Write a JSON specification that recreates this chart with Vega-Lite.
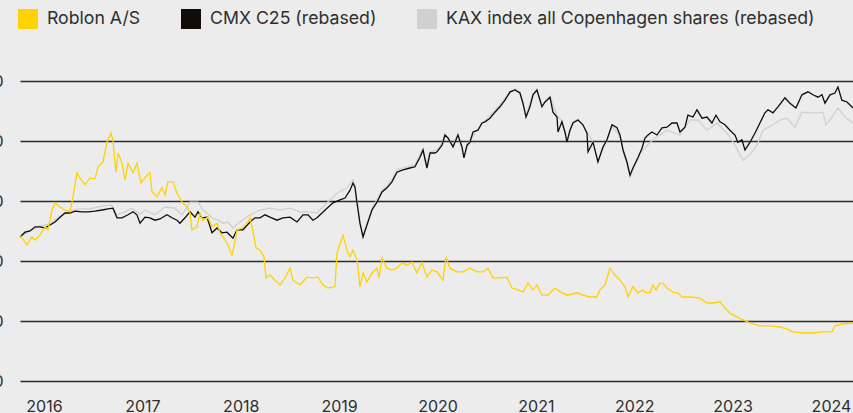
{
  "$schema": "https://vega.github.io/schema/vega-lite/v6.json",
  "autosize": "none",
  "width": 833,
  "height": 300,
  "padding": {"left": 20, "top": 81, "right": 0, "bottom": 32},
  "background": "#ececec",
  "config": {
    "view": {"stroke": null},
    "font": "Inter"
  },
  "datasets": {
    "roblon": [
      {"t":2015.756,"v":243},{"t":2015.827,"v":227},{"t":2015.878,"v":240},{"t":2015.909,"v":235},{"t":2015.959,"v":243},
      {"t":2016.010,"v":257},{"t":2016.041,"v":252},{"t":2016.081,"v":285},{"t":2016.112,"v":297},{"t":2016.163,"v":290},
      {"t":2016.213,"v":285},{"t":2016.264,"v":282},{"t":2016.295,"v":307},{"t":2016.335,"v":347},{"t":2016.366,"v":338},
      {"t":2016.417,"v":327},{"t":2016.468,"v":338},{"t":2016.518,"v":337},{"t":2016.549,"v":357},{"t":2016.600,"v":365},
      {"t":2016.640,"v":398},{"t":2016.681,"v":413},{"t":2016.701,"v":402},{"t":2016.732,"v":348},{"t":2016.752,"v":380},
      {"t":2016.793,"v":363},{"t":2016.823,"v":335},{"t":2016.854,"v":363},{"t":2016.905,"v":347},{"t":2016.945,"v":363},
      {"t":2016.986,"v":330},{"t":2017.047,"v":343},{"t":2017.077,"v":347},{"t":2017.098,"v":315},{"t":2017.149,"v":307},
      {"t":2017.199,"v":322},{"t":2017.230,"v":310},{"t":2017.260,"v":332},{"t":2017.311,"v":332},{"t":2017.352,"v":313},
      {"t":2017.403,"v":298},{"t":2017.454,"v":290},{"t":2017.484,"v":280},{"t":2017.504,"v":252},{"t":2017.555,"v":257},
      {"t":2017.586,"v":280},{"t":2017.616,"v":268},{"t":2017.667,"v":273},{"t":2017.708,"v":257},{"t":2017.759,"v":263},
      {"t":2017.789,"v":247},{"t":2017.860,"v":230},{"t":2017.911,"v":210},{"t":2017.931,"v":223},{"t":2017.962,"v":252},
      {"t":2018.013,"v":255},{"t":2018.064,"v":263},{"t":2018.094,"v":272},{"t":2018.125,"v":248},{"t":2018.155,"v":222},
      {"t":2018.196,"v":218},{"t":2018.236,"v":207},{"t":2018.257,"v":172},{"t":2018.297,"v":177},{"t":2018.348,"v":168},
      {"t":2018.399,"v":160},{"t":2018.450,"v":172},{"t":2018.501,"v":188},{"t":2018.531,"v":168},{"t":2018.602,"v":160},
      {"t":2018.673,"v":173},{"t":2018.724,"v":172},{"t":2018.785,"v":173},{"t":2018.836,"v":160},{"t":2018.887,"v":155},
      {"t":2018.958,"v":157},{"t":2018.978,"v":213},{"t":2019.039,"v":243},{"t":2019.080,"v":218},{"t":2019.111,"v":207},
      {"t":2019.141,"v":218},{"t":2019.182,"v":202},{"t":2019.212,"v":157},{"t":2019.243,"v":180},{"t":2019.283,"v":165},
      {"t":2019.334,"v":180},{"t":2019.385,"v":188},{"t":2019.405,"v":172},{"t":2019.436,"v":205},{"t":2019.487,"v":188},
      {"t":2019.537,"v":185},{"t":2019.588,"v":188},{"t":2019.639,"v":197},{"t":2019.690,"v":193},{"t":2019.741,"v":198},
      {"t":2019.791,"v":180},{"t":2019.842,"v":197},{"t":2019.893,"v":173},{"t":2019.944,"v":185},{"t":2019.995,"v":182},
      {"t":2020.056,"v":168},{"t":2020.086,"v":207},{"t":2020.127,"v":188},{"t":2020.198,"v":182},{"t":2020.259,"v":182},
      {"t":2020.330,"v":188},{"t":2020.401,"v":182},{"t":2020.462,"v":182},{"t":2020.513,"v":188},{"t":2020.564,"v":172},
      {"t":2020.635,"v":172},{"t":2020.706,"v":173},{"t":2020.757,"v":155},{"t":2020.818,"v":152},{"t":2020.869,"v":148},
      {"t":2020.920,"v":163},{"t":2020.971,"v":152},{"t":2021.011,"v":160},{"t":2021.062,"v":143},{"t":2021.123,"v":143},
      {"t":2021.194,"v":155},{"t":2021.265,"v":147},{"t":2021.326,"v":143},{"t":2021.418,"v":147},{"t":2021.479,"v":143},
      {"t":2021.550,"v":140},{"t":2021.621,"v":140},{"t":2021.652,"v":152},{"t":2021.703,"v":160},{"t":2021.753,"v":188},
      {"t":2021.804,"v":177},{"t":2021.855,"v":168},{"t":2021.906,"v":157},{"t":2021.936,"v":140},{"t":2021.987,"v":157},
      {"t":2022.038,"v":147},{"t":2022.089,"v":152},{"t":2022.109,"v":148},{"t":2022.160,"v":147},{"t":2022.190,"v":160},
      {"t":2022.221,"v":152},{"t":2022.262,"v":163},{"t":2022.292,"v":163},{"t":2022.333,"v":155},{"t":2022.394,"v":148},
      {"t":2022.445,"v":147},{"t":2022.485,"v":140},{"t":2022.567,"v":140},{"t":2022.668,"v":138},{"t":2022.739,"v":130},
      {"t":2022.800,"v":130},{"t":2022.872,"v":132},{"t":2022.922,"v":122},{"t":2022.973,"v":113},{"t":2023.044,"v":107},
      {"t":2023.105,"v":102},{"t":2023.177,"v":97},{"t":2023.278,"v":92},{"t":2023.380,"v":92},{"t":2023.482,"v":90},
      {"t":2023.553,"v":87},{"t":2023.614,"v":82},{"t":2023.715,"v":80},{"t":2023.817,"v":80},{"t":2023.919,"v":82},
      {"t":2024.010,"v":82},{"t":2024.040,"v":92},{"t":2024.122,"v":95},{"t":2024.224,"v":97}
    ],
    "cmx": [
      {"t":2015.756,"v":240},{"t":2015.807,"v":248},{"t":2015.858,"v":250},{"t":2015.909,"v":257},{"t":2015.959,"v":257},
      {"t":2016.010,"v":255},{"t":2016.061,"v":260},{"t":2016.112,"v":265},{"t":2016.163,"v":273},{"t":2016.213,"v":280},
      {"t":2016.264,"v":280},{"t":2016.315,"v":283},{"t":2016.386,"v":282},{"t":2016.447,"v":282},{"t":2016.518,"v":283},
      {"t":2016.590,"v":285},{"t":2016.651,"v":287},{"t":2016.701,"v":288},{"t":2016.742,"v":272},{"t":2016.793,"v":272},
      {"t":2016.854,"v":277},{"t":2016.905,"v":282},{"t":2016.945,"v":277},{"t":2016.976,"v":263},{"t":2017.027,"v":273},
      {"t":2017.077,"v":272},{"t":2017.128,"v":268},{"t":2017.179,"v":270},{"t":2017.250,"v":277},{"t":2017.301,"v":272},
      {"t":2017.352,"v":268},{"t":2017.382,"v":263},{"t":2017.433,"v":272},{"t":2017.484,"v":282},{"t":2017.535,"v":273},
      {"t":2017.565,"v":282},{"t":2017.606,"v":272},{"t":2017.657,"v":273},{"t":2017.708,"v":247},{"t":2017.759,"v":255},
      {"t":2017.809,"v":247},{"t":2017.860,"v":248},{"t":2017.921,"v":238},{"t":2017.962,"v":252},{"t":2018.023,"v":252},
      {"t":2018.094,"v":265},{"t":2018.145,"v":272},{"t":2018.196,"v":272},{"t":2018.246,"v":277},{"t":2018.297,"v":273},
      {"t":2018.368,"v":268},{"t":2018.429,"v":272},{"t":2018.501,"v":273},{"t":2018.572,"v":265},{"t":2018.633,"v":277},
      {"t":2018.684,"v":277},{"t":2018.734,"v":268},{"t":2018.775,"v":272},{"t":2018.826,"v":280},{"t":2018.877,"v":288},
      {"t":2018.938,"v":297},{"t":2019.009,"v":302},{"t":2019.060,"v":305},{"t":2019.111,"v":318},{"t":2019.141,"v":330},
      {"t":2019.161,"v":323},{"t":2019.182,"v":297},{"t":2019.212,"v":263},{"t":2019.243,"v":240},{"t":2019.283,"v":260},
      {"t":2019.334,"v":285},{"t":2019.385,"v":298},{"t":2019.436,"v":315},{"t":2019.487,"v":322},{"t":2019.537,"v":332},
      {"t":2019.588,"v":348},{"t":2019.649,"v":352},{"t":2019.720,"v":355},{"t":2019.771,"v":357},{"t":2019.822,"v":373},
      {"t":2019.853,"v":385},{"t":2019.893,"v":355},{"t":2019.924,"v":380},{"t":2019.974,"v":380},{"t":2019.995,"v":382},
      {"t":2020.046,"v":393},{"t":2020.076,"v":410},{"t":2020.107,"v":405},{"t":2020.158,"v":390},{"t":2020.208,"v":410},
      {"t":2020.249,"v":390},{"t":2020.269,"v":372},{"t":2020.300,"v":393},{"t":2020.330,"v":398},{"t":2020.361,"v":415},
      {"t":2020.412,"v":418},{"t":2020.452,"v":430},{"t":2020.483,"v":432},{"t":2020.534,"v":438},{"t":2020.584,"v":448},
      {"t":2020.635,"v":457},{"t":2020.686,"v":468},{"t":2020.737,"v":482},{"t":2020.788,"v":485},{"t":2020.838,"v":480},
      {"t":2020.869,"v":463},{"t":2020.900,"v":440},{"t":2020.940,"v":457},{"t":2020.971,"v":477},{"t":2021.011,"v":485},
      {"t":2021.062,"v":457},{"t":2021.093,"v":465},{"t":2021.144,"v":473},{"t":2021.174,"v":448},{"t":2021.215,"v":440},
      {"t":2021.225,"v":415},{"t":2021.265,"v":432},{"t":2021.296,"v":415},{"t":2021.316,"v":398},{"t":2021.347,"v":418},
      {"t":2021.377,"v":430},{"t":2021.428,"v":435},{"t":2021.479,"v":427},{"t":2021.520,"v":413},{"t":2021.530,"v":382},
      {"t":2021.581,"v":398},{"t":2021.631,"v":365},{"t":2021.682,"v":390},{"t":2021.723,"v":402},{"t":2021.774,"v":427},
      {"t":2021.825,"v":422},{"t":2021.855,"v":410},{"t":2021.886,"v":385},{"t":2021.926,"v":365},{"t":2021.957,"v":343},
      {"t":2021.987,"v":355},{"t":2022.038,"v":372},{"t":2022.079,"v":388},{"t":2022.109,"v":405},{"t":2022.140,"v":410},
      {"t":2022.180,"v":415},{"t":2022.231,"v":410},{"t":2022.282,"v":422},{"t":2022.333,"v":423},{"t":2022.384,"v":430},
      {"t":2022.435,"v":430},{"t":2022.465,"v":415},{"t":2022.516,"v":423},{"t":2022.546,"v":443},{"t":2022.597,"v":440},
      {"t":2022.638,"v":452},{"t":2022.689,"v":438},{"t":2022.739,"v":440},{"t":2022.790,"v":430},{"t":2022.831,"v":443},
      {"t":2022.872,"v":432},{"t":2022.922,"v":427},{"t":2022.973,"v":418},{"t":2023.024,"v":410},{"t":2023.054,"v":398},
      {"t":2023.095,"v":402},{"t":2023.126,"v":385},{"t":2023.177,"v":398},{"t":2023.227,"v":413},{"t":2023.278,"v":430},
      {"t":2023.329,"v":447},{"t":2023.360,"v":452},{"t":2023.410,"v":447},{"t":2023.461,"v":457},{"t":2023.532,"v":472},
      {"t":2023.583,"v":463},{"t":2023.644,"v":455},{"t":2023.705,"v":477},{"t":2023.766,"v":482},{"t":2023.817,"v":477},
      {"t":2023.868,"v":473},{"t":2023.909,"v":477},{"t":2023.939,"v":463},{"t":2023.990,"v":477},{"t":2024.040,"v":480},
      {"t":2024.071,"v":490},{"t":2024.111,"v":468},{"t":2024.163,"v":465},{"t":2024.224,"v":455}
    ],
    "kax": [
      {"t":2015.756,"v":240},{"t":2015.858,"v":250},{"t":2015.959,"v":258},{"t":2016.061,"v":262},{"t":2016.163,"v":275},
      {"t":2016.264,"v":283},{"t":2016.366,"v":287},{"t":2016.468,"v":287},{"t":2016.600,"v":292},{"t":2016.691,"v":293},
      {"t":2016.742,"v":277},{"t":2016.823,"v":282},{"t":2016.895,"v":288},{"t":2016.976,"v":278},{"t":2017.027,"v":285},
      {"t":2017.128,"v":277},{"t":2017.230,"v":290},{"t":2017.332,"v":288},{"t":2017.403,"v":277},{"t":2017.484,"v":298},
      {"t":2017.565,"v":298},{"t":2017.616,"v":285},{"t":2017.708,"v":272},{"t":2017.769,"v":268},{"t":2017.820,"v":263},
      {"t":2017.870,"v":265},{"t":2017.921,"v":255},{"t":2017.992,"v":265},{"t":2018.094,"v":277},{"t":2018.196,"v":285},
      {"t":2018.297,"v":288},{"t":2018.399,"v":285},{"t":2018.501,"v":288},{"t":2018.602,"v":282},{"t":2018.704,"v":282},
      {"t":2018.775,"v":280},{"t":2018.877,"v":297},{"t":2018.978,"v":313},{"t":2019.080,"v":322},{"t":2019.141,"v":335},
      {"t":2019.161,"v":327},{"t":2019.182,"v":297},{"t":2019.212,"v":263},{"t":2019.243,"v":242},{"t":2019.283,"v":262},
      {"t":2019.334,"v":288},{"t":2019.385,"v":302},{"t":2019.436,"v":318},{"t":2019.487,"v":325},{"t":2019.537,"v":335},
      {"t":2019.588,"v":352},{"t":2019.649,"v":355},{"t":2019.720,"v":358},{"t":2019.771,"v":360},{"t":2019.822,"v":377},
      {"t":2019.853,"v":387},{"t":2019.893,"v":358},{"t":2019.924,"v":382},{"t":2019.995,"v":385},{"t":2020.046,"v":396},
      {"t":2020.076,"v":412},{"t":2020.158,"v":392},{"t":2020.208,"v":412},{"t":2020.269,"v":374},{"t":2020.330,"v":401},
      {"t":2020.412,"v":421},{"t":2020.483,"v":434},{"t":2020.584,"v":451},{"t":2020.686,"v":471},{"t":2020.788,"v":487},
      {"t":2020.838,"v":482},{"t":2020.900,"v":442},{"t":2020.971,"v":479},{"t":2021.011,"v":487},{"t":2021.062,"v":459},
      {"t":2021.144,"v":475},{"t":2021.215,"v":442},{"t":2021.265,"v":434},{"t":2021.316,"v":400},{"t":2021.377,"v":432},
      {"t":2021.428,"v":437},{"t":2021.520,"v":415},{"t":2021.581,"v":398},{"t":2021.631,"v":367},{"t":2021.723,"v":401},
      {"t":2021.774,"v":425},{"t":2021.855,"v":407},{"t":2021.926,"v":362},{"t":2021.957,"v":340},{"t":2022.058,"v":380},
      {"t":2022.190,"v":402},{"t":2022.333,"v":418},{"t":2022.465,"v":410},{"t":2022.567,"v":435},{"t":2022.648,"v":435},
      {"t":2022.739,"v":418},{"t":2022.841,"v":430},{"t":2022.943,"v":413},{"t":2023.024,"v":393},{"t":2023.105,"v":368},
      {"t":2023.177,"v":377},{"t":2023.248,"v":393},{"t":2023.309,"v":418},{"t":2023.410,"v":427},{"t":2023.482,"v":435},
      {"t":2023.553,"v":438},{"t":2023.634,"v":423},{"t":2023.705,"v":448},{"t":2023.786,"v":447},{"t":2023.858,"v":447},
      {"t":2023.919,"v":448},{"t":2023.949,"v":427},{"t":2024.010,"v":440},{"t":2024.071,"v":455},{"t":2024.142,"v":440},
      {"t":2024.224,"v":430}
    ]
  },
  "layer": [
    {
      "data": {"name": "kax"},
      "mark": {"type": "line", "strokeWidth": 1.3},
      "encoding": {
        "x": {
          "field": "t", "type": "quantitative",
          "scale": {"domain": [2015.756, 2024.224], "nice": false, "zero": false},
          "axis": {
            "title": null, "values": [2016, 2017, 2018, 2019, 2020, 2021, 2022, 2023, 2024],
            "format": "d", "grid": false, "ticks": false, "domain": false,
            "labelFont": "Inter", "labelFontSize": 16, "labelColor": "#2e2e2e",
            "labelPadding": 17, "labelFlush": false
          }
        },
        "y": {
          "field": "v", "type": "quantitative",
          "scale": {"domain": [0, 500], "nice": false},
          "axis": {
            "title": null, "values": [0, 100, 200, 300, 400, 500],
            "grid": true, "gridColor": "#2b2b2b", "gridWidth": 1.3,
            "ticks": false, "domain": false,
            "labelFont": "Inter", "labelFontSize": 16, "labelColor": "#2e2e2e",
            "labelPadding": 17
          }
        },
        "color": {
          "datum": "KAX index all Copenhagen shares (rebased)",
          "scale": {
            "domain": ["Roblon A/S", "CMX C25 (rebased)", "KAX index all Copenhagen shares (rebased)"],
            "range": ["#ffd200", "#100c08", "#d0d0d0"]
          },
          "legend": {
            "title": null, "orient": "none", "legendX": -2, "legendY": -72,
            "direction": "horizontal", "padding": 0,
            "symbolType": "square", "symbolSize": 400, "symbolStrokeWidth": 0,
            "labelFont": "Inter", "labelFontSize": 17.7, "labelColor": "#2e2e2e",
            "labelOffset": 9, "columnPadding": 40, "labelLimit": 500,
            "encode": {"symbols": {"update": {"fill": {"scale": "color", "field": "value"}, "fillOpacity": {"value": 1}, "strokeWidth": {"value": 0}}}}
          }
        }
      }
    },
    {
      "data": {"name": "cmx"},
      "mark": {"type": "line", "strokeWidth": 1.3},
      "encoding": {
        "x": {"field": "t", "type": "quantitative"},
        "y": {"field": "v", "type": "quantitative"},
        "color": {"datum": "CMX C25 (rebased)"}
      }
    },
    {
      "data": {"name": "roblon"},
      "mark": {"type": "line", "strokeWidth": 1.3},
      "encoding": {
        "x": {"field": "t", "type": "quantitative"},
        "y": {"field": "v", "type": "quantitative"},
        "color": {"datum": "Roblon A/S"}
      }
    }
  ]
}
